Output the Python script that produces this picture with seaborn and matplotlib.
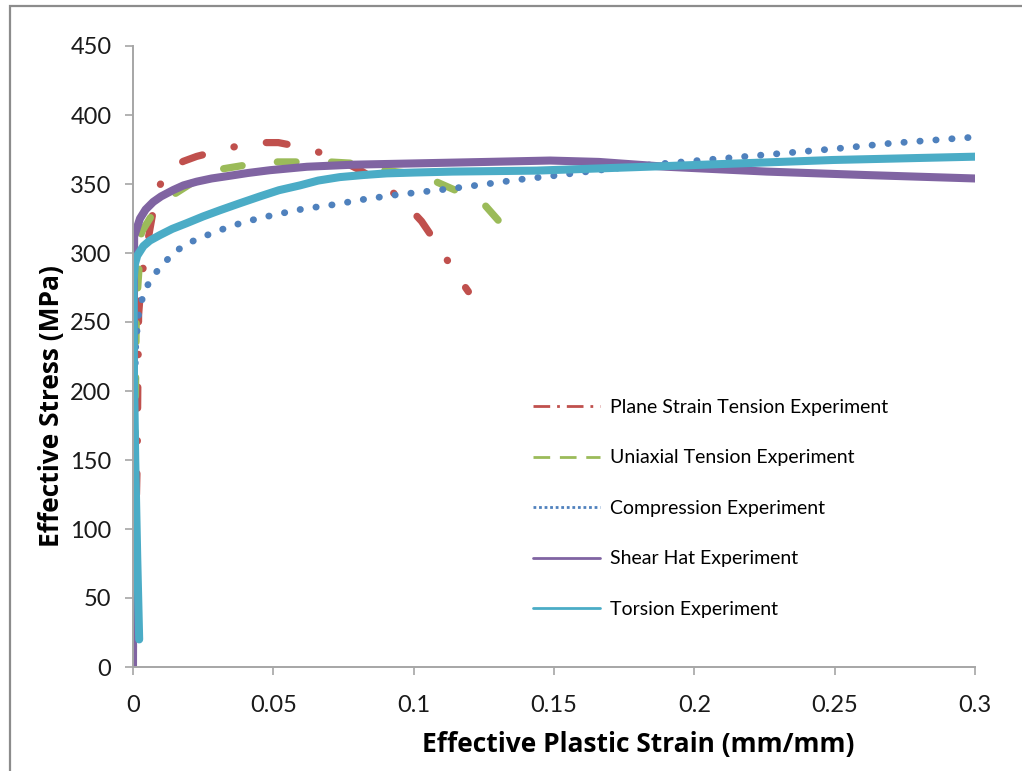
import numpy as np
import pandas as pd
import matplotlib
matplotlib.use("Agg")
import matplotlib.pyplot as plt
from matplotlib.patches import Rectangle
import seaborn as sns

# ---- data: effective plastic strain (mm/mm) vs effective stress (MPa) ----
plane_strain_x = [0.0, 0.0010, 0.0015, 0.0017, 0.0020, 0.0030, 0.0060, 0.0084, 0.0110,
                  0.0138, 0.0180, 0.0227, 0.0322, 0.0423, 0.0518, 0.0619, 0.0720, 0.0800,
                  0.0892, 0.0969, 0.1028, 0.1088, 0.1147, 0.1195]
plane_strain_y = [0, 100, 150, 200, 255, 282, 317, 344, 355, 362, 366.5, 370, 375, 380,
                  380, 376, 369, 361, 350, 336, 323, 305, 286, 272]

uniaxial_x = [0.0, 0.0005, 0.0008, 0.0012, 0.0030, 0.0078, 0.0150, 0.0227, 0.0320,
              0.0410, 0.0506, 0.0600, 0.0700, 0.0785, 0.0890, 0.0975, 0.1076, 0.1165,
              0.1248, 0.1313]
uniaxial_y = [0, 100, 180, 260, 315, 331, 343, 353, 361, 364, 366, 366, 366, 365, 360,
              358, 352, 344, 336, 321]

compression_x = [0.0, 0.0003, 0.0006, 0.0010, 0.0020, 0.0030, 0.0050, 0.0078, 0.0108,
                 0.0144, 0.0190, 0.0240, 0.0290, 0.0343, 0.0390, 0.0446, 0.0500, 0.0607,
                 0.0714, 0.0826, 0.0933, 0.1040, 0.1147, 0.1260, 0.1367, 0.1500, 0.1700,
                 0.1900, 0.2100, 0.2300, 0.2500, 0.2700, 0.2900, 0.3000]
compression_y = [0, 100, 200, 235, 255, 265, 276, 285, 292, 300, 306.5, 311, 315, 319,
                 322, 325, 327.5, 332, 335, 339, 342, 344.5, 347, 350, 353, 356, 361, 365,
                 368.5, 372, 375.5, 379.5, 382.5, 384]

shear_hat_x = [0.0, 0.0002, 0.0004, 0.0025, 0.0045, 0.0072, 0.0100, 0.0144, 0.0180,
               0.0227, 0.0280, 0.0346, 0.0410, 0.0488, 0.0620, 0.0785, 0.1022, 0.1260,
               0.1486, 0.1660, 0.1900, 0.2257, 0.2610, 0.3000]
shear_hat_y = [0, 150, 312, 325, 331.5, 337, 341, 345.7, 349, 351.7, 354, 356, 358, 360,
               362.5, 364, 365, 366, 367, 366, 362.5, 359, 356.5, 354]

torsion_x = [0.0022, 0.0015, 0.0008, 0.0003, 0.0002, 0.0007, 0.0015, 0.0037, 0.0060,
             0.0096, 0.0140, 0.0190, 0.0250, 0.0310, 0.0380, 0.0452, 0.0520, 0.0595,
             0.0660, 0.0737, 0.0820, 0.0904, 0.1000, 0.1140, 0.1438, 0.1900, 0.2494,
             0.3000]
torsion_y = [20, 80, 150, 220, 280, 292, 298, 305, 309, 313, 317.5, 321.5, 326.5, 331,
             336, 341, 345.5, 349, 352.5, 355, 356.5, 357.7, 358.3, 359, 359.7, 363,
             367.4, 369.8]

series_names = ["Plane Strain Tension Experiment", "Uniaxial Tension Experiment",
                "Compression Experiment", "Shear Hat Experiment", "Torsion Experiment"]

x_ticks = [0, 0.05, 0.1, 0.15, 0.2, 0.25, 0.3]
x_tick_labels = ["0", "0.05", "0.1", "0.15", "0.2", "0.25", "0.3"]
y_ticks = [0, 50, 100, 150, 200, 250, 300, 350, 400, 450]

# ---- styling ----
sns.set_theme(style="white")
plt.rcParams["font.family"] = ["Lato", "DejaVu Sans"]

colors = ["#C0504D", "#9BBB59", "#4F81BD", "#8064A2", "#4BACC6"]
# (plot dash pattern, legend dash pattern), in units of line width
styles = [
    ((0, (2.9, 4.5, 0.05, 4.5)), (0, (6, 2.5, 1, 2.5))),
    ((0, (2.6, 4.9)), (0, (6, 3.5))),
    ((0, (0.05, 2.3)), (0, (1, 1))),
    ("-", "-"),
    ("-", "-"),
]
widths = [5.2, 5.2, 4.9, 5.8, 5.8]

fig = plt.figure(figsize=(10.22, 7.71), dpi=100)
ax = fig.add_axes([133 / 1022, 1 - 667 / 771, (975 - 133) / 1022, (667 - 46) / 771])

all_x = [plane_strain_x, uniaxial_x, compression_x, shear_hat_x, torsion_x]
all_y = [plane_strain_y, uniaxial_y, compression_y, shear_hat_y, torsion_y]

for name, xs, ys, col, (ls, _), lw in zip(series_names, all_x, all_y, colors, styles, widths):
    df = pd.DataFrame({"strain": xs, "stress": ys})
    sns.lineplot(data=df, x="strain", y="stress", ax=ax, sort=False, estimator=None,
                 color=col, label=name, linewidth=lw)
    line = ax.lines[-1]
    line.set_linestyle(ls)
    line.set_dash_capstyle("round")
    line.set_solid_capstyle("round")
    line.set_solid_joinstyle("round")

ax.set_xlim(0, 0.3)
ax.set_ylim(0, 450)
ax.set_xticks(x_ticks)
ax.set_xticklabels(x_tick_labels)
ax.set_yticks(y_ticks)

for side in ["top", "right"]:
    ax.spines[side].set_visible(False)
for side in ["left", "bottom"]:
    ax.spines[side].set_color("#A6A6A6")
    ax.spines[side].set_linewidth(1.4)

ax.tick_params(axis="both", which="major", direction="out", length=5.5, width=1.2,
               color="#A6A6A6", labelsize=17, labelcolor="#1a1a1a")
ax.tick_params(axis="y", left=True, pad=10)
ax.tick_params(axis="x", bottom=True, pad=15)

label_font = dict(family=["Open Sans", "DejaVu Sans"], fontsize=19, fontweight="bold",
                  color="black")
ax.set_xlabel("Effective Plastic Strain (mm/mm)", **label_font)
ax.set_ylabel("Effective Stress (MPa)", **label_font)
ax.xaxis.set_label_coords((638 - 133) / 842, (667 - 731) / 621)
ax.yaxis.set_label_coords((65 - 133) / 842, (667 - 406) / 621)

leg = ax.legend(loc="upper left", bbox_to_anchor=(533 / 1022, 1 - 399 / 771),
                bbox_transform=fig.transFigure, frameon=False, fontsize=14,
                handlelength=3.45, handletextpad=0.5, labelspacing=1.72,
                borderaxespad=0, borderpad=0)
for hl, (_, lls), col in zip(leg.get_lines(), styles, colors):
    hl.set_linewidth(2.0)
    hl.set_linestyle(lls)
    hl.set_dash_capstyle("butt")
for txt in leg.get_texts():
    txt.set_color("black")

# outer chart frame
fig.patches.append(Rectangle((10 / 1022, -0.5), 2.0, 1.5 - 6 / 771,
                             transform=fig.transFigure, fill=False,
                             edgecolor="#8C8C8C", linewidth=1.6))

fig.savefig("out.png", dpi=100)
